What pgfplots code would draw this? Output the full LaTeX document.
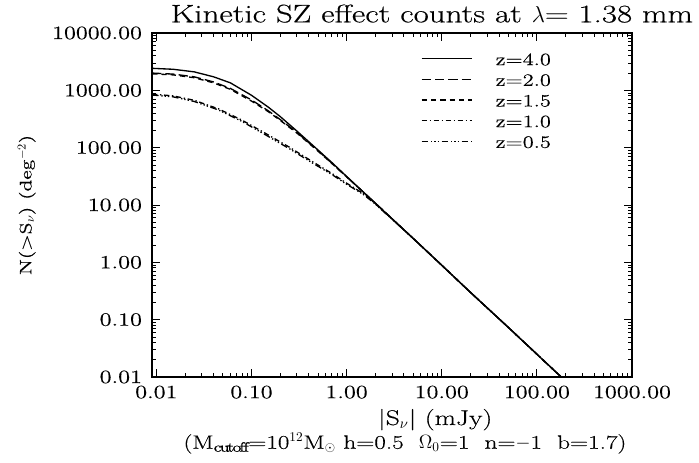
\documentclass[border=0pt]{standalone}
\usepackage{fontspec}
\setmainfont{Latin Modern Roman}[FakeStretch=1.3, FakeBold=0.4]
\usepackage{pgfplots}
\pgfplotsset{compat=1.18}
\begin{document}
\begin{tikzpicture}
\begin{axis}[
  scale only axis, width=360pt, height=258pt,
  xmode=log, ymode=log,
  xmin=0.009, xmax=1000, ymin=0.01, ymax=10000,
  xtick={0.01,0.1,1,10,100,1000},
  xticklabels={0.01,0.10,1.00,10.00,100.00,1000.00},
  ytick={0.01,0.1,1,10,100,1000,10000},
  yticklabels={0.01,0.10,1.00,10.00,100.00,1000.00,10000.00},
  tick label style={font=\fontsize{14}{16}\selectfont},
  yticklabel style={xshift=-4pt},
  xticklabel style={yshift=-3pt},
  major tick length=6pt, minor tick length=3pt,
  tick style={black, line width=0.6pt},
  axis line style={line width=1pt},
  title={Kinetic SZ effect counts at $\lambda$= 1.38 mm},
  title style={at={(rel axis cs:0.583,1)}, anchor=base, yshift=2pt, inner sep=0pt, font=\fontsize{19}{21}\selectfont},
  xlabel={|S$_\nu$| (mJy)},
  xlabel style={at={(rel axis cs:0.59,-0.124)}, anchor=center, font=\fontsize{16}{18}\selectfont},
  ylabel={N(>S$_\nu$) (deg$^{-2}$)},
  ylabel style={at={(rel axis cs:-0.261,0.5)}, anchor=center, font=\fontsize{12.5}{15}\selectfont},
  legend style={at={(rel axis cs:0.560,0.948)}, anchor=north west, draw=none, fill=none, inner sep=0pt,
    row sep=4pt, nodes={inner xsep=4pt, inner ysep=1pt, text height=9.5pt, text depth=0pt},
    font=\fontsize{13}{15}\selectfont},
  legend cell align=left,
  legend image code/.code={\draw[#1] (0pt,0pt) -- (38pt,0pt); \path (51pt,0pt);},
]
\coordinate (bl) at (rel axis cs:0,0);
\coordinate (tr) at (rel axis cs:1,1);
\coordinate (sub) at (rel axis cs:0.527,-0.193);

\addplot[black, line width=1pt] table {
x y
0.009 2420
0.015 2330
0.025 2100
0.04 1720
0.06 1350
0.1 820
0.15 510
0.2 350
0.3 195
0.5 91
0.7 55
1 31.5
2 10.8
5 2.62
10 0.89
20 0.30
50 0.0735
100 0.025
200 0.0085
};
\addlegendentry{z=4.0}

\addplot[black, line width=1pt, dash pattern=on 7pt off 3pt] table {
x y
0.009 2000
0.015 1920
0.025 1720
0.04 1400
0.06 1080
0.1 680
0.15 440
0.2 310
0.3 185
0.5 89
0.7 53.5
1 31
2 10.8
5 2.62
10 0.89
20 0.30
50 0.0735
100 0.025
200 0.0085
};
\addlegendentry{z=2.0}

\addplot[black, line width=1pt, dash pattern=on 4pt off 3pt] table {
x y
0.009 1940
0.015 1860
0.025 1660
0.04 1350
0.06 1040
0.1 650
0.15 425
0.2 300
0.3 180
0.5 87
0.7 53
1 31
2 10.8
5 2.62
10 0.89
20 0.30
50 0.0735
100 0.025
200 0.0085
};
\addlegendentry{z=1.5}

\addplot[black, line width=1pt, dash pattern=on 4pt off 2pt on 1pt off 2pt] table {
x y
0.009 860
0.015 800
0.025 670
0.045 475
0.08 300
0.14 178
0.25 102
0.43 58
0.7 35.5
1 24
1.5 15.8
2 10.6
3 5.7
5 2.62
10 0.89
20 0.30
50 0.0735
100 0.025
200 0.0085
};
\addlegendentry{z=1.0}

\addplot[black, line width=1pt, dash pattern=on 5pt off 2pt on 1pt off 1.5pt on 1pt off 1.5pt on 1pt off 2pt] table {
x y
0.009 830
0.015 770
0.025 640
0.045 455
0.08 285
0.14 168
0.25 96
0.43 55
0.7 34
1 23
1.5 15.3
2 10.4
3 5.65
5 2.62
10 0.89
20 0.30
50 0.0735
100 0.025
200 0.0085
};
\addlegendentry{z=0.5}
\end{axis}
\node[font=\fontsize{14.5}{17}\selectfont, anchor=center] at (sub)
  {(M$_{\mathrm{cutoff}}$=10$^{12}$M$_\odot$ h=0.5 \ $\Omega_0$=1 \ n=$-$1 \ b=1.7)};
\pgfresetboundingbox
\useasboundingbox ([shift={(-114pt,-64.5pt)}]bl) rectangle ([shift={(50.25pt,24.75pt)}]tr);
\end{tikzpicture}
\end{document}
